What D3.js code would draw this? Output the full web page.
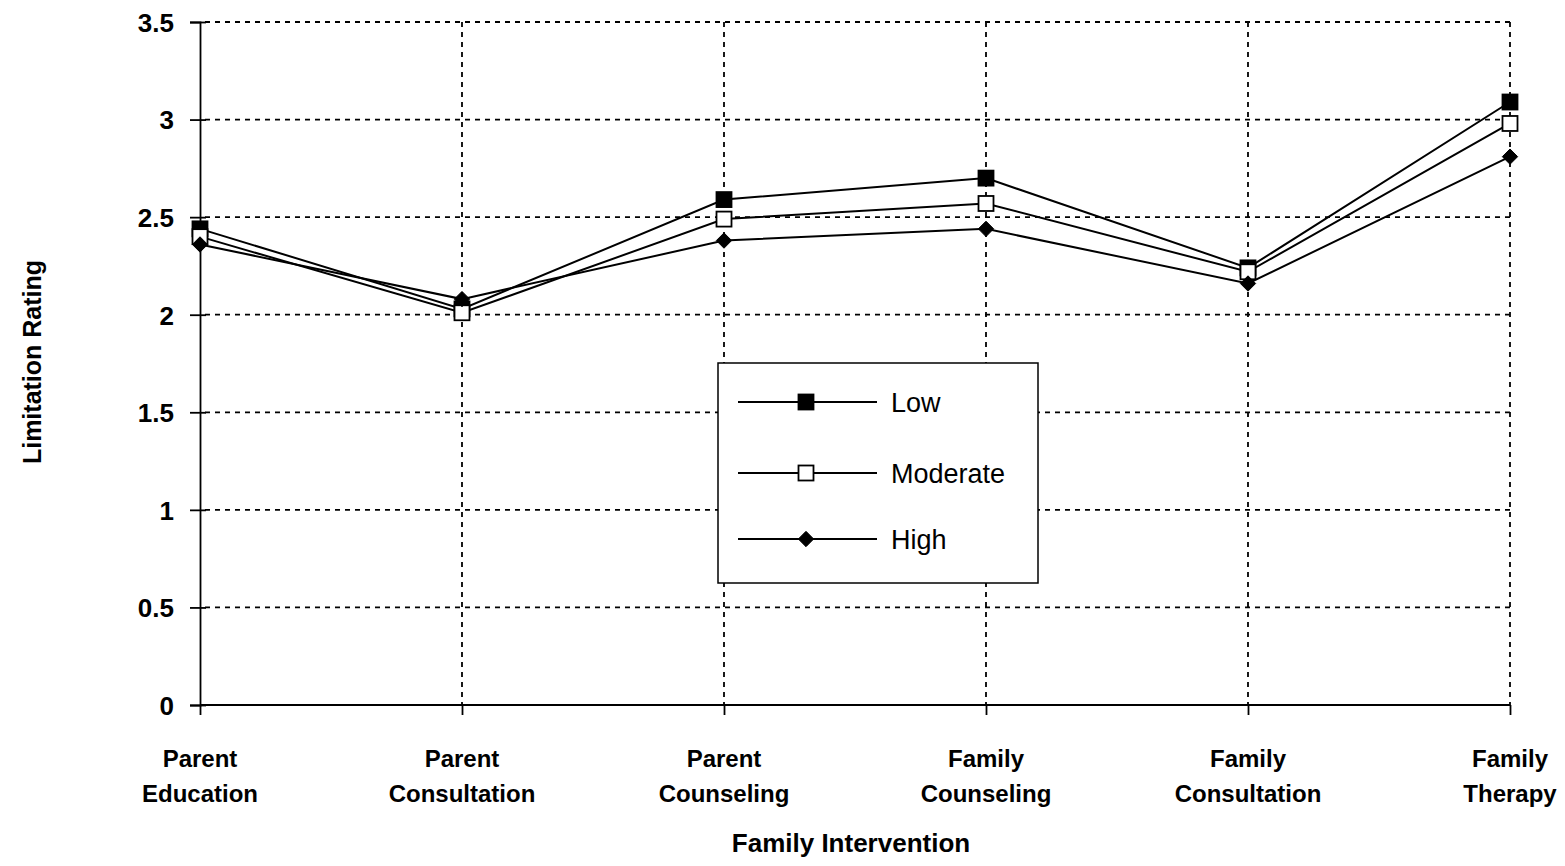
<!DOCTYPE html>
<html>
<head>
<meta charset="utf-8">
<script src="https://cdn.jsdelivr.net/npm/d3@7"></script>
<style>
  html, body { margin: 0; padding: 0; background: #fff; }
  svg { display: block; font-family: "Liberation Sans", Arial, Helvetica, sans-serif; }
</style>
</head>
<body>
<svg id="chart" width="1565" height="866"></svg>
<script>
// Interventions along the x axis (two-line labels)
const categories = [
  ["Parent", "Education"],
  ["Parent", "Consultation"],
  ["Parent", "Counseling"],
  ["Family", "Counseling"],
  ["Family", "Consultation"],
  ["Family", "Therapy"]
];

// Mean limitation rating per intervention, by level
const lowValues      = [2.44, 2.03, 2.59, 2.70, 2.24, 3.09];
const moderateValues = [2.40, 2.01, 2.49, 2.57, 2.22, 2.98];
const highValues     = [2.36, 2.08, 2.38, 2.44, 2.16, 2.81];

const seriesNames = ["Low", "Moderate", "High"];
const yTicks = [0, 0.5, 1, 1.5, 2, 2.5, 3, 3.5];

const series = [
  { name: seriesNames[0], values: lowValues,      marker: "squareFilled" },
  { name: seriesNames[1], values: moderateValues, marker: "squareOpen" },
  { name: seriesNames[2], values: highValues,     marker: "diamond" }
];

const svg = d3.select("#chart");
const keys = categories.map(c => c.join(" "));

const x = d3.scalePoint().domain(keys).range([200, 1510]).padding(0);
const y = d3.scaleLinear().domain([0, 3.5]).range([705, 22]);

// Dashed grid
const grid = svg.append("g").attr("stroke", "#000").attr("stroke-width", 1.8)
  .attr("stroke-dasharray", "5,5").attr("fill", "none");
grid.selectAll("line.h").data(yTicks.filter(t => t > 0)).join("line")
  .attr("class", "h")
  .attr("x1", 205).attr("x2", 1510)
  .attr("y1", d => y(d)).attr("y2", d => y(d));
grid.selectAll("line.v").data(keys.slice(1)).join("line")
  .attr("class", "v")
  .attr("x1", d => x(d)).attr("x2", d => x(d))
  .attr("y1", y(3.5)).attr("y2", y(0));

// Y axis
const yAxis = d3.axisLeft(y).tickValues(yTicks).tickSize(10).tickPadding(16)
  .tickFormat(d => d3.format("")(d));
const gy = svg.append("g").attr("transform", "translate(200,0)").call(yAxis);
gy.select(".domain").attr("stroke", "#000").attr("stroke-width", 1.8);
gy.selectAll(".tick line").attr("stroke", "#000").attr("stroke-width", 1.8)
  .attr("x1", 6);
gy.selectAll(".tick text").attr("font-size", 26).attr("font-weight", "bold")
  .attr("fill", "#000").attr("font-family", "Liberation Sans, Arial, sans-serif")
  .attr("dy", "0.36em");

// X axis
const xAxis = d3.axisBottom(x).tickSize(10).tickFormat("");
const gx = svg.append("g").attr("transform", "translate(0,705)").call(xAxis);
gx.select(".domain").attr("stroke", "#000").attr("stroke-width", 1.8)
  .attr("d", `M${x(keys[0])},0H${x(keys[keys.length - 1])}`);
gx.selectAll(".tick line").attr("stroke", "#000").attr("stroke-width", 1.8);

const catLabels = svg.append("g").attr("font-size", 24).attr("font-weight", "bold")
  .attr("text-anchor", "middle").attr("fill", "#000");
categories.forEach((c, i) => {
  const t = catLabels.append("text").attr("x", x(keys[i])).attr("y", 767);
  t.append("tspan").attr("x", x(keys[i])).text(c[0]);
  t.append("tspan").attr("x", x(keys[i])).attr("dy", 35).text(c[1]);
});

// Axis titles
svg.append("text").attr("x", 851).attr("y", 852).attr("text-anchor", "middle")
  .attr("font-size", 26).attr("font-weight", "bold").text("Family Intervention");
svg.append("text").attr("transform", "translate(41,362) rotate(-90)")
  .attr("text-anchor", "middle").attr("font-size", 25).attr("font-weight", "bold")
  .text("Limitation Rating");

// Marker drawing
function drawMarker(sel, type) {
  if (type === "diamond") {
    sel.append("path").attr("d", d3.symbol().type(d3.symbolDiamond2).size(150)())
      .attr("transform", "rotate(0)")
      .attr("fill", "#000").attr("stroke", "#000").attr("stroke-width", 1);
  } else {
    sel.append("rect").attr("x", -7.5).attr("y", -7.5).attr("width", 15).attr("height", 15)
      .attr("fill", type === "squareFilled" ? "#000" : "#fff")
      .attr("stroke", "#000").attr("stroke-width", 1.8);
  }
}

// Lines
const line = d3.line().x((d, i) => x(keys[i])).y(d => y(d));
const lines = svg.append("g");
series.forEach(s => {
  lines.append("path").datum(s.values).attr("d", line)
    .attr("fill", "none").attr("stroke", "#000").attr("stroke-width", 2);
});
series.forEach(s => {
  const g = lines.append("g");
  s.values.forEach((v, i) => {
    const m = g.append("g").attr("transform", `translate(${x(keys[i])},${y(v)})`);
    drawMarker(m, s.marker);
  });
});

// Legend
const legend = svg.append("g");
legend.append("rect").attr("x", 718).attr("y", 363).attr("width", 320).attr("height", 220)
  .attr("fill", "#fff").attr("stroke", "#000").attr("stroke-width", 1.5);
const rowY = [402, 473, 539];
series.forEach((s, i) => {
  const r = legend.append("g").attr("transform", `translate(0,${rowY[i]})`);
  r.append("line").attr("x1", 738).attr("x2", 877).attr("y1", 0).attr("y2", 0)
    .attr("stroke", "#000").attr("stroke-width", 1.8);
  const m = r.append("g").attr("transform", "translate(806,0)");
  drawMarker(m, s.marker);
  r.append("text").attr("x", 891).attr("y", 0).attr("dy", "0.36em")
    .attr("font-size", 27).attr("fill", "#000").text(s.name);
});
</script>
</body>
</html>
